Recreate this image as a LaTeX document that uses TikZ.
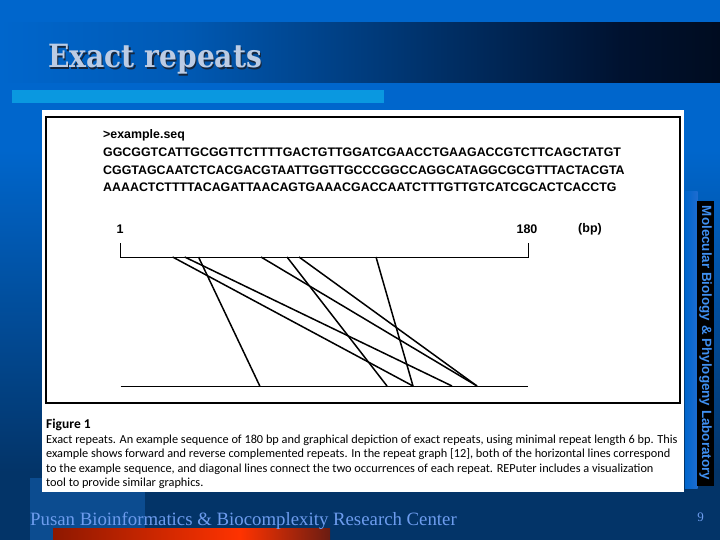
\documentclass[tikz,border=0pt]{standalone}
\usepackage{fontspec}
\setmainfont{Liberation Sans}
\newfontfamily\seqfont{Liberation Sans}
\newfontfamily\titlefont{DejaVu Serif}
\newfontfamily\capfont{Carlito}
\newfontfamily\footfont{Liberation Serif}
\definecolor{slideblue}{HTML}{0066CC}
\definecolor{slidenavy}{HTML}{033468}
\definecolor{bandmid}{HTML}{005AB5}
\definecolor{banddark}{HTML}{001230}
\definecolor{banddeep}{HTML}{000C20}
\definecolor{lightbar}{HTML}{0A98E0}
\definecolor{stripblue}{HTML}{0C4C90}
\definecolor{redbright}{HTML}{FF3300}
\definecolor{reddark}{HTML}{8E1800}
\definecolor{redend}{HTML}{6A1C12}
\definecolor{titlecol}{HTML}{BCCCE4}
\definecolor{titleshadow}{HTML}{16263C}
\definecolor{footcol}{HTML}{6D9CEE}
\definecolor{sidecol}{HTML}{3F8FF0}
\definecolor{sideedge}{HTML}{1E6CD0}
\tikzset{
  seqtext/.style={anchor=base west, inner sep=0pt, font=\seqfont\bfseries\fontsize{12.4}{14}\selectfont},
  axislabel/.style={inner sep=0pt, font=\seqfont\bfseries\fontsize{12.5}{14}\selectfont},
  captext/.style={anchor=base west, inner sep=0pt, font=\capfont\fontsize{12.3}{14}\selectfont},
  repeatline/.style={line width=1.5pt, black},
  axisline/.style={line width=1pt, black}
}
\begin{document}
\begin{tikzpicture}[x=1pt,y=-1pt]
\useasboundingbox (0,0) rectangle (720,540);
% background
\fill[slideblue] (0,0) rectangle (720,540);
\shade[top color=slideblue, bottom color=slidenavy] (0,150) rectangle (720,472);
\fill[slidenavy] (0,471) rectangle (720,540);
\fill[stripblue] (30,478) rectangle (145,540);
% title band
\shade[left color=slideblue, right color=bandmid] (0,23) rectangle (180.5,83);
\shade[left color=bandmid, right color=banddark] (180,23) rectangle (620.5,83);
\shade[left color=banddark, right color=banddeep] (620,23) rectangle (720,83);
\fill[lightbar] (12,90) rectangle (384,103);
% title
\node[anchor=base west, inner sep=0pt, text=titleshadow] (titleshadow) at (49.5,69.5)
  {\titlefont\bfseries\fontsize{32}{36}\selectfont\scalebox{0.88}[1]{Exact repeats}};
\node[anchor=base west, inner sep=0pt, text=titlecol] (title) at (48,68)
  {\titlefont\bfseries\fontsize{32}{36}\selectfont\scalebox{0.88}[1]{Exact repeats}};
% side bar
\shade[left color=slideblue, right color=sideedge] (685,192) rectangle (697.5,488);
\fill[black] (697,201) rectangle (714,486);
\node[rotate=-90, inner sep=0pt, text=sidecol, font=\seqfont\bfseries\fontsize{13.4}{15}\selectfont] (sidetext) at (705.5,343)
  {Molecular Biology \& Phylogeny Laboratory};
% red bar
\shade[left color=reddark, right color=redbright] (53,528) rectangle (240.5,540);
\shade[left color=redbright, right color=redend] (240,528) rectangle (330,540);
% footer
\node[anchor=base west, inner sep=0pt, text=footcol, font=\footfont\fontsize{18.8}{22}\selectfont] (footer) at (30,525)
  {Pusan Bioinformatics \& Biocomplexity Research Center};
\node[inner sep=0pt, text=footcol, font=\footfont\fontsize{13}{15}\selectfont] (pagenum) at (700.5,517) {9};
% figure
\fill[white] (42,110) rectangle (684,492);
\draw[line width=2pt] (46,117) rectangle (679.5,403);
\node[seqtext] (seqname) at (103,139) {>example.seq};
\node[seqtext] (seq1) at (103,156.5) {GGCGGTCATTGCGGTTCTTTTGACTGTTGGATCGAACCTGAAGACCGTCTTCAGCTATGT};
\node[seqtext] (seq2) at (103,174.2) {CGGTAGCAATCTCACGACGTAATTGGTTGCCCGGCCAGGCATAGGCGCGTTTACTACGTA};
\node[seqtext] (seq3) at (103,191.9) {AAAACTCTTTTACAGATTAACAGTGAAACGACCAATCTTTGTTGTCATCGCACTCACCTG};
% axes
\coordinate (axTL) at (120.7,257);
\coordinate (axTR) at (528,257);
\coordinate (tkL) at (120.7,243);
\coordinate (tkR) at (528,243);
\coordinate (axBL) at (120.7,386);
\coordinate (axBR) at (528,386);
\draw[axisline] (tkL) -- (axTL) -- (axTR) -- (tkR);
\draw[axisline] (axBL) -- (axBR);
\node[axislabel] (lab1) at (120,229.5) {1};
\node[axislabel] (lab180) at (527,229.5) {180};
\node[axislabel] (labbp) at (590,229.5) {(bp)};
% repeats
\coordinate (t1) at (198.5,257); \coordinate (b1) at (259.8,386);
\coordinate (t2) at (172.6,257); \coordinate (b2) at (413,386);
\coordinate (t3) at (184.7,257); \coordinate (b3) at (452,386);
\coordinate (t4) at (261,257);   \coordinate (b4) at (477,386);
\coordinate (t5) at (287,257);   \coordinate (b5) at (387,386);
\coordinate (t6) at (299,257);   \coordinate (b6) at (477,386);
\coordinate (t7) at (376,257);   \coordinate (b7) at (413,386);
\foreach \i in {1,...,7} \draw[repeatline] (t\i) -- (b\i);
% caption
\node[captext, font=\capfont\bfseries\fontsize{13.5}{15}\selectfont] (figlabel) at (46,428.5) {Figure 1};
\node[captext] (cap1) at (46,443.5) {Exact repeats. An example sequence of 180 bp and graphical depiction of exact repeats, using minimal repeat length 6 bp. This};
\node[captext] (cap2) at (46,457.8) {example shows forward and reverse complemented repeats. In the repeat graph [12], both of the horizontal lines correspond};
\node[captext] (cap3) at (46,472.1) {to the example sequence, and diagonal lines connect the two occurrences of each repeat. REPuter includes a visualization};
\node[captext] (cap4) at (46,486.4) {tool to provide similar graphics.};
\end{tikzpicture}
\end{document}
